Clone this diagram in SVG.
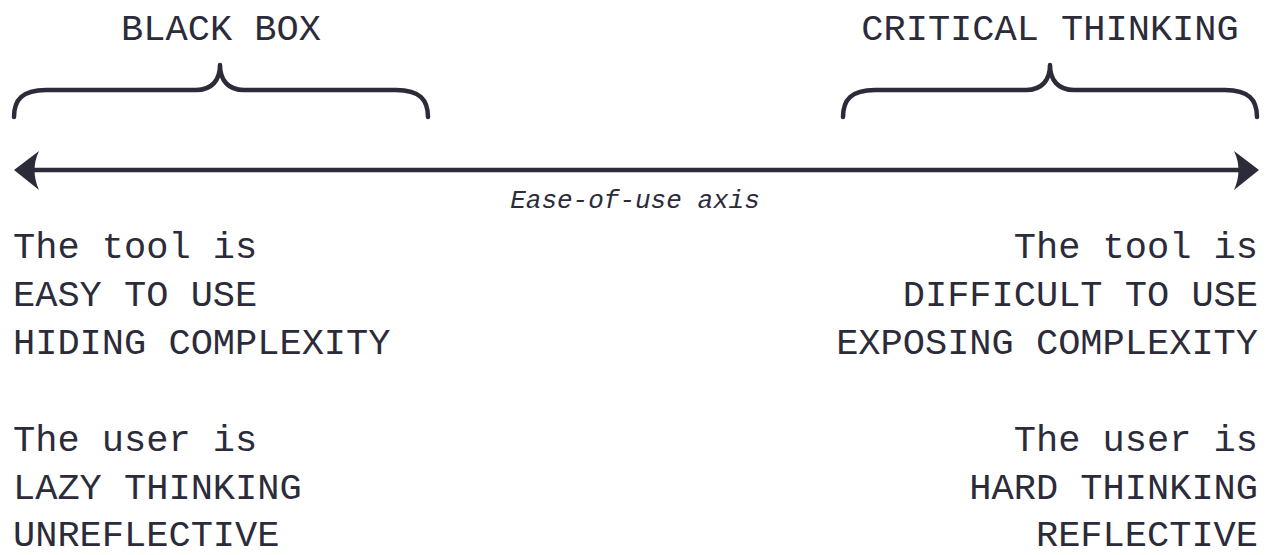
<svg xmlns="http://www.w3.org/2000/svg" width="1266" height="555" viewBox="0 0 1266 555">
  <style>
    .t { font-family: "Liberation Mono", "DejaVu Sans Mono", monospace; font-size: 37px; fill: #2b2b3a; }
    .r { text-anchor: end; }
    .m { text-anchor: middle; }
    .ax { font-family: "Liberation Mono", "DejaVu Sans Mono", monospace; font-style: italic; font-size: 26px; fill: #2b2b3a; text-anchor: middle; }
    .brace { fill: none; stroke: #2b2b3a; stroke-width: 4.5; stroke-linecap: round; stroke-linejoin: round; }
    .axis { fill: none; stroke: #2b2b3a; stroke-width: 4.5; }
    .head { fill: #2b2b3a; }
  </style>
  <rect width="1266" height="555" fill="#ffffff"/>

  <g id="black-box">
    <text class="t m" x="221" y="40">BLACK BOX</text>
    <path class="brace" d="M14 117 C14 100 22 90 46 90 L196 90 C212 90 220 80 220 65 C220 80 228 90 244 90 L396 90 C420 90 428 100 428 117"/>
  </g>

  <g id="critical-thinking">
    <text class="t m" x="1050" y="40">CRITICAL THINKING</text>
    <path class="brace" d="M843 117 C843 100 851 90 875 90 L1026 90 C1042 90 1050 80 1050 65 C1050 80 1058 90 1074 90 L1225 90 C1249 90 1257 100 1257 117"/>
  </g>

  <g id="connectors">
    <line class="axis" x1="32" y1="170" x2="1241" y2="170"/>
    <path class="head" d="M14 170 L39 151 Q30 170 39 190 Z"/>
    <path class="head" d="M1259 170 L1234 151 Q1243 170 1234 190 Z"/>
    <text class="ax" x="635" y="208">Ease-of-use axis</text>
  </g>

  <g id="left-text">
    <text class="t" x="13" y="258">The tool is</text>
    <text class="t" x="13" y="306">EASY TO USE</text>
    <text class="t" x="13" y="354">HIDING COMPLEXITY</text>
    <text class="t" x="13" y="451">The user is</text>
    <text class="t" x="13" y="499">LAZY THINKING</text>
    <text class="t" x="13" y="546">UNREFLECTIVE</text>
  </g>

  <g id="right-text">
    <text class="t r" x="1258" y="258">The tool is</text>
    <text class="t r" x="1258" y="306">DIFFICULT TO USE</text>
    <text class="t r" x="1258" y="354">EXPOSING COMPLEXITY</text>
    <text class="t r" x="1258" y="451">The user is</text>
    <text class="t r" x="1258" y="499">HARD THINKING</text>
    <text class="t r" x="1258" y="546">REFLECTIVE</text>
  </g>
</svg>
